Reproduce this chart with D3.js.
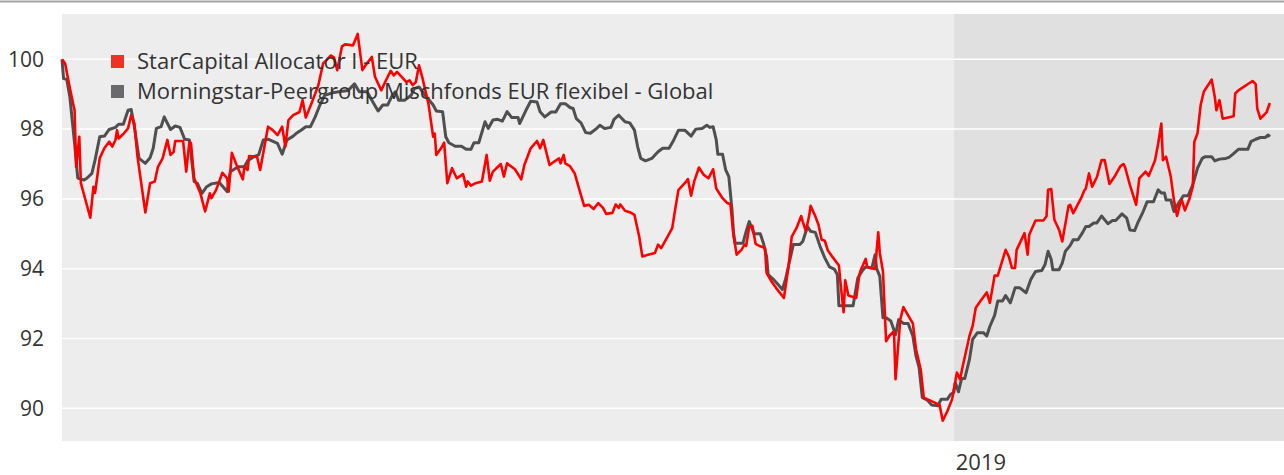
<!DOCTYPE html>
<html>
<head>
<meta charset="utf-8">
<script src="https://cdn.jsdelivr.net/npm/d3@7"></script>
<style>
  html, body { margin: 0; padding: 0; background: #fff; }
  svg text { font-family: "Open Sans", "Noto Sans", sans-serif; fill: #333; }
</style>
</head>
<body>
<svg width="1284" height="475"></svg>
<script>
// series: [days since start, indexed value]
const startDate = new Date(2017, 5, 13)
const endDate = new Date(2019, 6, 30)
const yearMark = new Date(2019, 0, 1)
const yTicks = [90, 92, 94, 96, 98, 100]
const seriesNames = ['StarCapital Allocator I - EUR', 'Morningstar-Peergroup Mischfonds EUR flexibel - Global']

const starCapital = [[0,100],[2,99.88],[4,99.4],[7,98.74],[8,98.54],[9,96.92],[11,97.78],[12,96.45],[18,95.46],[20,96.35],
[21,96.17],[24,97.17],[27,97.46],[30,97.64],[32,97.5],[34,97.69],[35,97.97],[36,97.73],[39,97.86],[42,98.02],
[44,98.4],[46,98.17],[48,97.21],[53,95.61],[56,96.45],[59,96.5],[61,96.92],[64,97.16],[67,97.69],[69,97.26],
[71,97.35],[72,97.66],[77,97.66],[79,96.78],[81,97.64],[82,97.6],[84,96.59],[88,96.16],[91,95.64],[94,96.16],
[95,96.02],[98,96.26],[102,96.75],[105,96.59],[106,96.21],[108,97.32],[111,96.97],[115,96.56],[116,96.94],[118,96.83],
[119,97.23],[124,97.21],[126,96.83],[131,98.07],[134,97.97],[137,97.83],[140,98.07],[142,97.5],[144,98.26],[147,98.4],
[151,98.49],[153,98.83],[155,98.33],[159,98.78],[163,99.26],[166,99.88],[168,99.97],[171,100.11],[173,100.05],[175,99.69],
[178,100.37],[180,100.43],[185,100.4],[188,100.73],[191,99.69],[193,99.83],[197,100.07],[199,99.5],[203,99.11],[206,99.4],
[209,99.67],[211,99.54],[213,99.64],[216,99.5],[219,99.35],[221,99.4],[223,99.26],[225,99.35],[227,99.83],[229,99.5],
[233,98.73],[236,97.78],[237,97.87],[238,97.26],[241,97.45],[243,97.61],[245,96.45],[248,96.88],[251,96.59],[255,96.71],
[257,96.35],[258,96.5],[260,96.38],[263,96.45],[267,96.5],[270,97.26],[272,96.52],[274,96.78],[279,97.0],[281,96.64],
[283,97.02],[288,96.85],[292,96.56],[294,96.97],[298,97.45],[302,97.66],[304,97.45],[306,97.69],[310,96.97],[313,97.07],
[316,97.16],[317,97.02],[319,97.26],[320,97.02],[323,96.94],[326,96.73],[329,96.26],[332,95.8],[335,95.83],[338,95.71],
[341,95.88],[344,95.74],[346,95.57],[350,95.6],[352,95.84],[354,95.74],[355,95.84],[358,95.66],[361,95.62],[364,95.54],
[367,94.92],[369,94.35],[372,94.39],[377,94.45],[379,94.69],[381,94.59],[384,94.83],[388,95.16],[390,95.73],[392,96.26],
[397,96.5],[398,96.57],[400,96.09],[402,96.5],[405,96.9],[408,96.69],[411,96.59],[414,96.85],[416,96.3],[420,96.02],
[423,95.88],[425,95.85],[427,94.94],[429,94.4],[432,94.54],[434,94.69],[435,94.65],[437,95.21],[439,95.23],[441,94.71],
[444,94.64],[447,94.59],[448,93.88],[451,93.64],[454,93.45],[459,93.16],[462,94.07],[464,94.92],[467,95.16],[470,95.51],
[471,95.35],[473,95.07],[475,95.5],[476,95.8],[479,95.5],[481,95.26],[483,94.83],[485,94.8],[487,94.52],[490,94.33],
[494,94.09],[495,93.59],[497,92.75],[498,93.67],[500,93.23],[502,93.2],[505,93.16],[507,93.83],[508,93.97],[511,94.28],
[512,94.05],[514,94.02],[517,93.99],[519,95.04],[520,94.45],[522,93.92],[524,91.92],[526,92.07],[529,92.21],[530,90.83],
[533,92.54],[535,92.9],[538,92.66],[541,92.43],[543,91.69],[546,91.11],[548,90.28],[550,90.26],[555,90.16],[558,90.09],
[560,89.64],[563,89.92],[566,90.26],[569,91.02],[571,90.83],[573,91.26],[577,92.07],[579,92.35],[581,92.88],[584,93.07],
[588,93.32],[590,93.02],[593,93.8],[595,93.8],[600,94.54],[602,94.35],[604,94.02],[606,94.02],[607,94.54],[612,95.02],
[614,94.4],[615,94.97],[619,95.38],[624,95.38],[626,95.5],[627,96.26],[629,96.28],[631,95.4],[634,95.11],[636,94.78],
[640,95.8],[641,95.83],[643,95.59],[648,96.02],[650,96.24],[651,96.3],[653,96.73],[655,96.35],[658,96.62],[661,97.11],
[663,97.11],[666,96.43],[669,96.62],[673,96.94],[675,97.0],[676,96.9],[679,96.4],[683,95.83],[685,96.59],[686,96.64],
[689,96.78],[691,96.66],[695,97.11],[697,97.59],[699,98.16],[700,97.11],[702,97.21],[705,96.64],[707,95.97],[709,95.51],
[711,95.88],[712,95.97],[714,95.67],[717,96.02],[719,96.35],[720,97.64],[722,97.88],[724,98.69],[726,99.07],[731,99.42],
[733,98.92],[734,98.54],[736,98.83],[738,98.3],[745,98.37],[746,99.02],[748,99.11],[757,99.38],[759,99.29],[760,98.59],
[762,98.3],[766,98.49],[768,98.75]]

const peerGroup = [[0,100],[1,99.45],[3,99.43],[5,98.92],[8,97.59],[10,96.6],[14,96.54],[16,96.6],[19,96.73],[21,97.11],
[24,97.78],[27,97.8],[30,97.99],[34,98.05],[36,98.14],[39,98.14],[42,98.54],[44,98.56],[46,98.07],[49,97.16],
[53,97.02],[56,97.18],[58,97.45],[60,98.02],[63,98.07],[65,98.35],[69,97.99],[72,98.09],[75,98.05],[78,97.71],
[81,97.69],[84,96.5],[86,96.45],[89,96.16],[92,96.35],[95,96.43],[100,96.47],[105,96.21],[107,96.78],[112,96.92],
[116,96.92],[118,97.09],[122,97.21],[125,97.26],[128,97.69],[131,97.71],[137,97.59],[140,97.28],[143,97.69],[147,97.8],
[149,97.88],[152,97.97],[155,98.07],[158,98.07],[161,98.35],[164,98.69],[167,98.97],[172,99.04],[176,99.07],[182,99.11],
[186,99.3],[189,99.07],[194,99.07],[197,98.83],[201,98.52],[204,98.69],[207,98.69],[210,98.97],[212,99.07],[214,98.83],
[218,98.83],[222,98.97],[224,99.16],[227,99.21],[230,99.02],[236,98.69],[238,98.52],[242,98.5],[244,97.78],[246,97.61],
[250,97.51],[254,97.51],[257,97.42],[260,97.42],[262,97.61],[265,97.61],[269,98.21],[271,98.02],[274,98.26],[277,98.28],
[280,98.23],[283,98.5],[286,98.33],[290,98.33],[291,98.16],[295,98.54],[298,98.8],[302,98.78],[304,98.5],[307,98.35],
[311,98.49],[314,98.49],[317,98.73],[320,98.73],[323,98.62],[325,98.59],[327,98.3],[330,98.18],[333,97.9],[336,97.88],
[340,98.02],[342,98.11],[345,98.02],[349,98.05],[351,98.28],[354,98.4],[358,98.21],[361,98.18],[364,97.97],[366,97.5],
[368,97.16],[371,97.09],[375,97.16],[379,97.35],[382,97.45],[386,97.45],[389,97.69],[392,97.97],[396,97.97],[400,97.8],
[403,98.0],[407,98.02],[410,98.11],[412,98.05],[414,98.07],[416,97.69],[417,97.28],[420,97.28],[422,96.83],[424,96.64],
[426,95.69],[427,95.02],[428,94.73],[433,94.73],[435,95.07],[437,95.35],[440,95.0],[444,95.0],[446,94.73],[448,94.35],
[449,93.83],[452,93.71],[456,93.51],[458,93.4],[460,93.69],[462,94.09],[465,94.69],[469,94.69],[471,94.78],[474,95.21],
[476,95.07],[479,95.04],[482,94.64],[485,94.31],[488,94.05],[491,93.99],[493,93.83],[494,92.94],[497,92.94],[500,92.94],
[503,92.94],[506,93.73],[509,93.95],[511,94.05],[515,94.02],[517,94.4],[518,94.0],[520,93.78],[522,92.59],[524,92.59],
[527,92.5],[530,92.11],[532,92.54],[535,92.43],[538,92.43],[541,92.07],[543,91.5],[545,91.16],[547,90.31],[550,90.24],
[553,90.09],[557,90.07],[559,90.26],[563,90.26],[565,90.4],[567,90.45],[568,90.73],[570,90.47],[572,90.85],[574,90.85],
[577,91.4],[579,91.97],[582,92.16],[586,92.16],[588,92.07],[590,92.35],[593,92.66],[595,93.07],[598,93.07],[600,93.23],
[603,93.02],[606,93.45],[609,93.45],[613,93.31],[616,93.69],[619,93.92],[623,93.95],[625,94.11],[627,94.5],[629,94.26],
[630,93.97],[634,93.97],[636,94.16],[638,94.5],[641,94.66],[643,94.83],[646,94.83],[649,95.04],[651,95.21],[653,95.21],
[656,95.31],[658,95.31],[661,95.51],[665,95.29],[668,95.38],[670,95.38],[674,95.57],[677,95.45],[679,95.11],[682,95.09],
[684,95.31],[687,95.59],[690,95.92],[694,95.92],[697,96.26],[699,96.17],[701,96.17],[702,95.97],[705,95.97],[707,95.64],
[710,95.88],[713,96.09],[716,96.09],[719,96.4],[722,96.88],[725,97.16],[727,97.21],[731,97.21],[733,97.09],[736,97.14],
[740,97.16],[742,97.19],[744,97.26],[748,97.42],[754,97.42],[756,97.64],[759,97.71],[762,97.76],[765,97.76],[767,97.83],
[768,97.78]]

const svg = d3.select("svg"),
    width = +svg.attr("width"),
    plotLeft = 62, plotTop = 14, plotBottom = 441

// scales
const x = d3.scaleTime().domain([startDate, endDate]).range([plotLeft, width])
const y = d3.scaleLinear().domain([89.06, 101.3]).range([plotBottom, plotTop])

// thin rule at the very top
svg.append("line")
    .attr("x1", 0).attr("x2", width)
    .attr("y1", 1.5).attr("y2", 1.5)
    .attr("stroke", "#a5a5a5").attr("stroke-width", 2)

// plot backgrounds: before and after the 2019 mark
svg.append("rect")
    .attr("x", plotLeft).attr("y", plotTop)
    .attr("width", x(yearMark) - plotLeft).attr("height", plotBottom - plotTop)
    .attr("fill", "#ededed")
svg.append("rect")
    .attr("x", x(yearMark)).attr("y", plotTop)
    .attr("width", width - x(yearMark)).attr("height", plotBottom - plotTop)
    .attr("fill", "#e0e0e0")

// gridlines
svg.append("g").selectAll("line")
    .data(yTicks)
    .enter().append("line")
    .attr("x1", plotLeft).attr("x2", width)
    .attr("y1", d => y(d)).attr("y2", d => y(d))
    .attr("stroke", "#fff").attr("stroke-width", 1.5)

// y labels
svg.append("g").selectAll("text")
    .data(yTicks)
    .enter().append("text")
    .attr("x", 44)
    .attr("y", d => y(d))
    .attr("dy", "0.35em")
    .attr("text-anchor", "end")
    .style("font-size", "21px")
    .text(d => d)

// x label
svg.append("text")
    .attr("x", x(yearMark) + 2)
    .attr("y", 470)
    .style("font-size", "22px")
    .text(d3.timeFormat("%Y")(yearMark))

const line = d3.line()
    .x(d => x(d3.timeDay.offset(startDate, d[0])))
    .y(d => y(d[1]))

svg.append("path")
    .datum(peerGroup)
    .attr("fill", "none")
    .attr("stroke", "#4f4f4f")
    .attr("stroke-width", 3)
    .attr("stroke-linejoin", "round")
    .attr("d", line)

svg.append("path")
    .datum(starCapital)
    .attr("fill", "none")
    .attr("stroke", "#ff0000")
    .attr("stroke-width", 2.6)
    .attr("stroke-linejoin", "round")
    .attr("d", line)

// legend
const legendColours = ['#ee3124', '#6a6a6d']
const legend = svg.append("g").selectAll("g")
    .data(seriesNames)
    .enter().append("g")
    .attr("transform", (d, i) => "translate(111," + (55 + i * 30) + ")")
legend.append("rect")
    .attr("width", 13).attr("height", 13)
    .attr("fill", (d, i) => legendColours[i])
legend.append("text")
    .attr("x", 26).attr("y", 6)
    .attr("dy", "0.35em")
    .style("font-size", "22px")
    .text(d => d)
</script>
</body>
</html>
